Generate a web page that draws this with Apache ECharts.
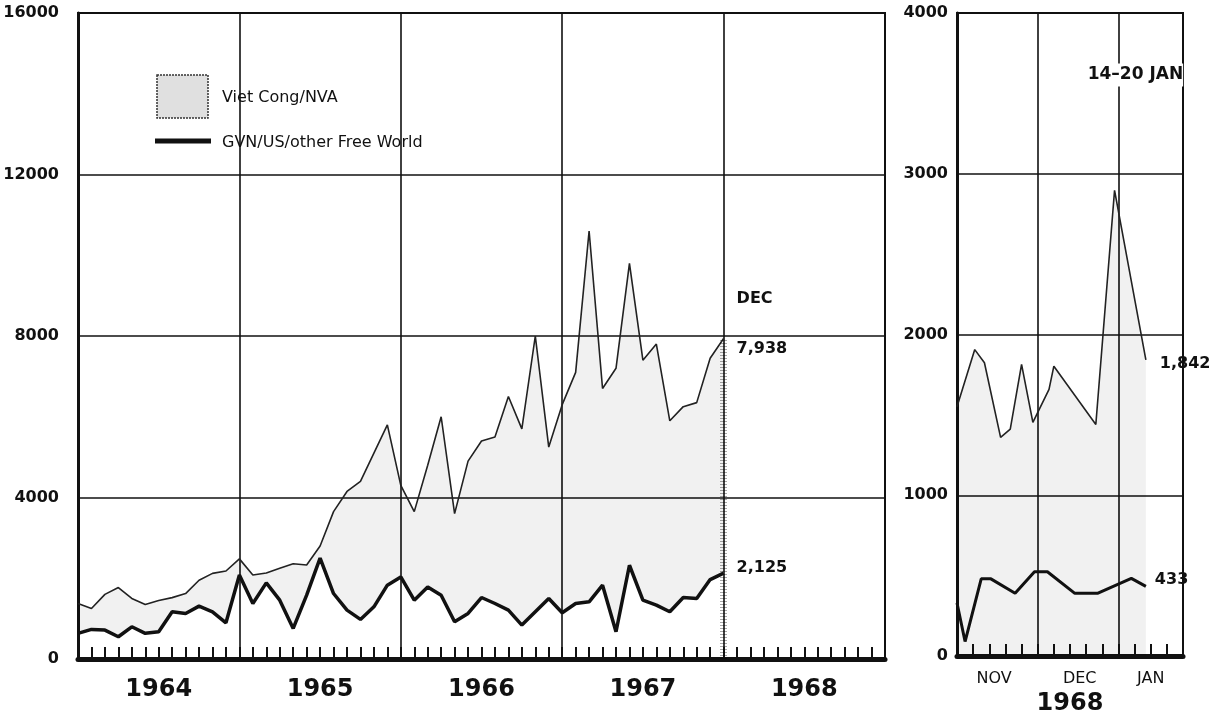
<!DOCTYPE html>
<html><head><meta charset="utf-8">
<script src="https://cdn.jsdelivr.net/npm/echarts@6/dist/echarts.min.js"></script>
<style>html,body{margin:0;padding:0;background:#fff}#c{width:1211px;height:721px}</style>
</head><body><div id="c"></div>
<script>
// ---------- DATA ----------
const years = ['1964', '1965', '1966', '1967', '1968'];
// monthly points on month boundaries: first = start of Jan 1964, last = end of Dec 1967
const vcMonthly = [1375, 1250, 1600, 1770, 1500, 1350, 1450, 1520, 1620, 1950, 2120, 2180,
                   2480, 2080, 2130, 2250, 2360, 2330, 2800, 3650, 4150, 4400, 5100, 5800,
                   4300, 3650, 4800, 6000, 3600, 4900, 5400, 5500, 6500, 5700, 8000, 5250,
                   6300, 7100, 10600, 6700, 7200, 9800, 7400, 7800, 5900, 6250, 6350, 7450,
                   7938];
const gvnMonthly = [635, 733, 716, 551, 798, 635, 675, 1169, 1128, 1309, 1169, 897,
                    2080, 1375, 1885, 1457, 757, 1580, 2500, 1622, 1210, 980, 1292, 1828,
                    2033, 1457, 1786, 1580, 922, 1128, 1523, 1375, 1210, 840, 1169, 1498,
                    1144, 1375, 1416, 1828, 675, 2322, 1457, 1334, 1169, 1523, 1498, 1968,
                    2125];
// weekly panel (x = weeks from the start of November 1967)
const weekMonths = ['NOV', 'DEC', 'JAN'];
const weekMonthCenters = [2.3, 7.6, 12];
const vcWeekPos = [0, 1.1, 1.7, 2.7, 3.3, 4.0, 4.7, 5.7, 6.0, 8.6, 9.76, 11.7];
const vcWeekly  = [1550, 1906, 1824, 1360, 1411, 1814, 1453, 1659, 1803, 1440, 2897, 1842];
const gvnWeekPos = [0, 0.5, 1.5, 2.1, 3.6, 4.8, 5.6, 7.3, 8.7, 10.8, 11.7];
const gvnWeekly  = [330, 90, 480, 480, 390, 524, 524, 390, 390, 483, 433];
const legendNames = ['Viet Cong/NVA', 'GVN/US/other Free World'];

// ---------- CHART ----------
const FONT = 'DejaVu Sans';
const INK = '#111';
const chart = echarts.init(document.getElementById('c'), null, {renderer: 'canvas'});

// month-boundary categories for 1964..1968 (61 boundaries); data fill the first 49
const monthSlots = [];
years.forEach(y => { for (let m = 0; m < 12; m++) monthSlots.push(y + '-' + (m + 1)); });
monthSlots.push('1969-1');
const vcLeftDiff = vcMonthly.map((v, i) => v - gvnMonthly[i]);
const vcRight = vcWeekly.map((v, i) => [vcWeekPos[i], v]);
const gvnRight = gvnWeekly.map((v, i) => [gvnWeekPos[i], v]);
const lastL = vcMonthly.length - 1;

const splitStyle = {show: true, lineStyle: {color: INK, width: 1.6}};
const tickStyle = {color: INK, width: 2};
const AREA = 'rgba(0,0,0,0.08)';

chart.setOption({
  animation: false,
  backgroundColor: '#fff',
  textStyle: {fontFamily: FONT, color: INK},
  grid: [
    {left: 78, top: 13, width: 807, height: 646, show: true, borderColor: INK, borderWidth: 2, backgroundColor: 'transparent'},
    {left: 957, top: 13, width: 226, height: 646, show: true, borderColor: INK, borderWidth: 2, backgroundColor: 'transparent'}
  ],
  xAxis: [
    {type: 'category', gridIndex: 0, data: monthSlots, boundaryGap: false,
     axisLine: {show: true, lineStyle: {color: INK, width: 5}},
     axisTick: {show: true, inside: true, length: 12, interval: 0, lineStyle: tickStyle},
     axisLabel: {show: false},
     splitLine: {show: true, interval: (i) => i % 12 === 0, lineStyle: {color: INK, width: 1.6}}},
    {type: 'category', gridIndex: 0, data: years, boundaryGap: true, position: 'bottom',
     axisLine: {show: false}, axisTick: {show: false}, splitLine: {show: false},
     axisLabel: {fontSize: 24, fontWeight: 'bold', color: INK, margin: 19, fontFamily: FONT}},
    {type: 'value', gridIndex: 1, min: 0, max: 14, interval: 5,
     axisLine: {show: true, lineStyle: {color: INK, width: 5}},
     axisTick: {show: true, inside: true, length: 12, lineStyle: tickStyle},
     minorTick: {show: true, splitNumber: 5, length: 12, lineStyle: tickStyle},
     axisLabel: {show: false}, splitLine: splitStyle,
     name: '1968', nameLocation: 'middle', nameGap: 36,
     nameTextStyle: {fontSize: 24, fontWeight: 'bold', color: INK, fontFamily: FONT}}
  ],
  yAxis: [
    {type: 'value', gridIndex: 0, min: 0, max: 16000, interval: 4000,
     axisLine: {show: true, lineStyle: {color: INK, width: 3}}, axisTick: {show: false},
     axisLabel: {fontSize: 16, fontWeight: 'bold', color: INK, margin: 19, fontFamily: FONT,
                 formatter: v => String(v)},
     splitLine: splitStyle},
    {type: 'value', gridIndex: 1, min: 0, max: 4000, interval: 1000,
     axisLine: {show: true, lineStyle: {color: INK, width: 3}}, axisTick: {show: false},
     axisLabel: {fontSize: 16, fontWeight: 'bold', color: INK, margin: 9, fontFamily: FONT,
                 formatter: v => String(v)},
     splitLine: splitStyle}
  ],
  series: [
    {name: legendNames[1], type: 'line', xAxisIndex: 0, yAxisIndex: 0, data: gvnMonthly,
     stack: 'left', symbol: 'none', z: 5, lineStyle: {color: INK, width: 3.5}},
    {name: legendNames[0], type: 'line', xAxisIndex: 0, yAxisIndex: 0, data: vcLeftDiff,
     stack: 'left', symbol: 'none', z: 4, lineStyle: {color: '#222', width: 1.6},
     areaStyle: {color: AREA},
     markLine: {silent: true, symbol: 'none', label: {show: false},
       lineStyle: {color: 'rgba(0,0,0,0.35)', width: 7, type: [1, 2]},
       data: [[{coord: [monthSlots[lastL], 0]}, {coord: [monthSlots[lastL], vcMonthly[lastL]]}]]}},
    {name: legendNames[0], type: 'line', xAxisIndex: 2, yAxisIndex: 1, data: vcRight,
     symbol: 'none', z: 4, lineStyle: {color: '#222', width: 1.6},
     areaStyle: {color: AREA, origin: 'start'}},
    {name: legendNames[1], type: 'line', xAxisIndex: 2, yAxisIndex: 1, data: gvnRight,
     symbol: 'none', z: 5, lineStyle: {color: INK, width: 3}}
  ]
});

// ---------- ANNOTATIONS ----------
function pxL(i, y) { return chart.convertToPixel({xAxisIndex: 0, yAxisIndex: 0}, [monthSlots[i], y]); }
function pxR(x, y) { return chart.convertToPixel({xAxisIndex: 2, yAxisIndex: 1}, [x, y]); }
function txt(text, x, y, opts) {
  opts = opts || {};
  return {type: 'text', silent: true, z: 50,
    style: Object.assign({text: text, x: x, y: y, fill: INK,
      font: (opts.weight || 'bold') + ' ' + (opts.size || 16) + 'px "' + FONT + '"',
      align: opts.align || 'left', verticalAlign: opts.va || 'middle'}, opts.style || {})};
}
const pVcL = pxL(lastL, vcMonthly[lastL]);
const pGvnL = pxL(lastL, gvnMonthly[lastL]);
const nR = vcWeekly.length - 1;
const nG = gvnWeekly.length - 1;
const pVcR = pxR(vcWeekPos[nR], vcWeekly[nR]);
const pGvnR = pxR(gvnWeekPos[nG], gvnWeekly[nG]);
const fmt = v => v.toLocaleString('en-US');
const pTop = pxR(10, 4000);

const graphics = [
  // legend
  {type: 'rect', silent: true, z: 50, shape: {x: 157, y: 75, width: 51, height: 43},
   style: {fill: 'rgba(0,0,0,0.12)', stroke: '#333', lineWidth: 1.5, lineDash: [2, 1]}},
  {type: 'line', silent: true, z: 50, shape: {x1: 155, y1: 141, x2: 211, y2: 141},
   style: {stroke: INK, lineWidth: 5}},
  txt(legendNames[0], 222, 98, {weight: 'normal', size: 16}),
  txt(legendNames[1], 222, 143, {weight: 'normal', size: 16}),
  // end labels, left panel
  txt('DEC', pVcL[0] + 13, pVcL[1] - 40),
  txt(fmt(vcMonthly[lastL]), pVcL[0] + 13, pVcL[1] + 10),
  txt(fmt(gvnMonthly[lastL]), pGvnL[0] + 13, pGvnL[1] - 5),
  // end labels, right panel
  txt(fmt(vcWeekly[nR]), pVcR[0] + 14, pVcR[1] + 4),
  txt(fmt(gvnWeekly[nG]), pGvnR[0] + 9, pGvnR[1] - 7),
  txt('14–20 JAN', pTop[0] + 17, pTop[1] + 62,
      {size: 17, align: 'center', style: {backgroundColor: '#fff', padding: [3, 0, 3, 0]}})
];
weekMonths.forEach((m, i) => {
  const p = pxR(weekMonthCenters[i], 0);
  graphics.push(txt(m, p[0], p[1] + 23, {size: 16, weight: 'normal', align: 'center'}));
});
chart.setOption({graphic: graphics});
</script>
</body></html>
